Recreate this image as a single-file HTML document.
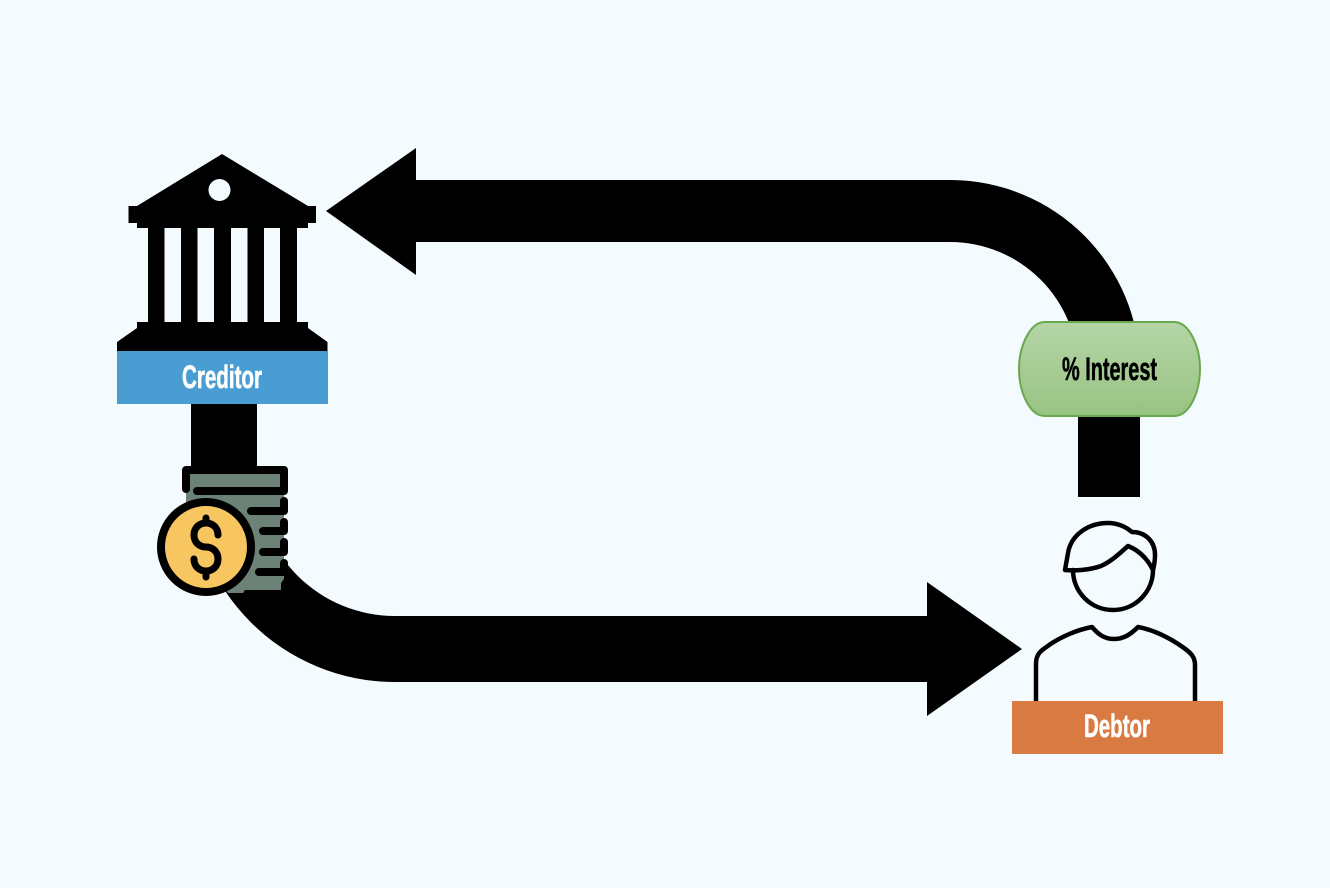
<!DOCTYPE html>
<html>
<head>
<meta charset="utf-8">
<style>
html,body{margin:0;padding:0;background:#f4fbff}
svg{display:block}
text{font-family:"Liberation Sans",sans-serif;font-weight:bold}
</style>
</head>
<body>
<svg width="1330" height="888" viewBox="0 0 1330 888" xmlns="http://www.w3.org/2000/svg">
<defs>
<linearGradient id="g" x1="0" y1="0" x2="0" y2="1">
<stop offset="0" stop-color="#b5d5a6"/>
<stop offset="1" stop-color="#98c383"/>
</linearGradient>
</defs>
<rect width="1330" height="888" fill="#f4fbff"/>

<!-- top arrow -->
<path d="M326 211 L416 148 V180 H950 A190 190 0 0 1 1140 370 V497 H1078 V370 A128 128 0 0 0 950 242 H416 V275 Z" fill="#000"/>
<!-- bottom arrow -->
<path d="M191 404 H257 V478 A138 138 0 0 0 395 616 H927 V582 L1022 649 L927 716 V682 H395 A204 204 0 0 1 191 478 Z" fill="#000"/>

<!-- bank -->
<path d="M222 154 L308 206 H316 V223 H308 V228 H297 V322 H308 V328 L327.500 342 V351 H117 V342 L137 328 V322 H148 V228 H137 V223 H128.500 V206 H137 Z" fill="#000"/>
<g fill="#f4fbff">
<rect x="164.500" y="228" width="16.500" height="94"/>
<rect x="197.500" y="228" width="16.500" height="94"/>
<rect x="231" y="228" width="16.500" height="94"/>
<rect x="264" y="228" width="16" height="94"/>
<circle cx="219.500" cy="190" r="11"/>
</g>
<rect x="117" y="351" width="211" height="53" fill="#4a9dd3"/>
<text x="182" y="388" font-size="32" fill="#fff" stroke="#fff" stroke-width="0.6" textLength="80" lengthAdjust="spacingAndGlyphs">Creditor</text>

<!-- coins -->
<path d="M186 474 H284 V579 L281 583 V590 H245 L243 593 H228 L186 540 Z" fill="#6c8276"/>
<g fill="none" stroke="#000" stroke-width="8" stroke-linecap="round" stroke-linejoin="round">
<path d="M186 489 V470 H284 V491 H197"/>
<path d="M284 501 V511 H251"/>
<path d="M284 522 V531 H263"/>
<path d="M284 542 V552 H263"/>
<path d="M284 563 V572 H259"/>
</g>
<circle cx="206" cy="547" r="45" fill="#f7c660" stroke="#000" stroke-width="8"/>
<path d="M218 535 C218 528 213 523 206 523 C199 523 194 528 194 535 C194 542 199 547 206 547 C213 547 218 552 218 559 C218 566 213 571 206 571 C199 571 194 566 194 559 M206 518 V523 M206 571 V577" fill="none" stroke="#000" stroke-width="7" stroke-linecap="round"/>

<!-- interest pill -->
<path d="M1045 322 H1174 C1190 322 1200 348 1200 369 C1200 391 1190 416 1174 416 H1045 C1029 416 1019 391 1019 369 C1019 348 1029 322 1045 322 Z" fill="url(#g)" stroke="#6aa84f" stroke-width="2"/>
<text x="1062" y="380" font-size="32" fill="#000" stroke="#000" stroke-width="0.6" textLength="95" lengthAdjust="spacingAndGlyphs">% Interest</text>

<!-- person -->
<g fill="none" stroke="#000" stroke-width="4.500" stroke-linejoin="round" stroke-linecap="round">
<path d="M1073 570 A40 40 0 0 0 1153 570"/>
<path d="M1065 570 L1068 553 C1071 535 1088 523 1108 523 C1118 523 1126 527 1132 532 C1146 532 1155 542 1155 555 C1155 561 1154 566 1153 570 C1147 558 1138 550 1128 546 C1120 553 1112 561 1101 566 C1090 570 1075 571 1065 570 Z"/>
<path d="M1036 701 V664 C1036 656 1039 652 1045 648 C1058 638 1076 630 1092 627 C1098 634 1104 639 1114 639 C1124 639 1131 634 1138 627 C1154 630 1170 638 1184 648 C1191 653 1195 657 1195 665 V701" stroke-linecap="butt"/>
</g>
<rect x="1012" y="701" width="211" height="53" fill="#d97a42"/>
<text x="1084" y="737" font-size="32" fill="#fff" stroke="#fff" stroke-width="0.6" textLength="66" lengthAdjust="spacingAndGlyphs">Debtor</text>
</svg>
</body>
</html>
